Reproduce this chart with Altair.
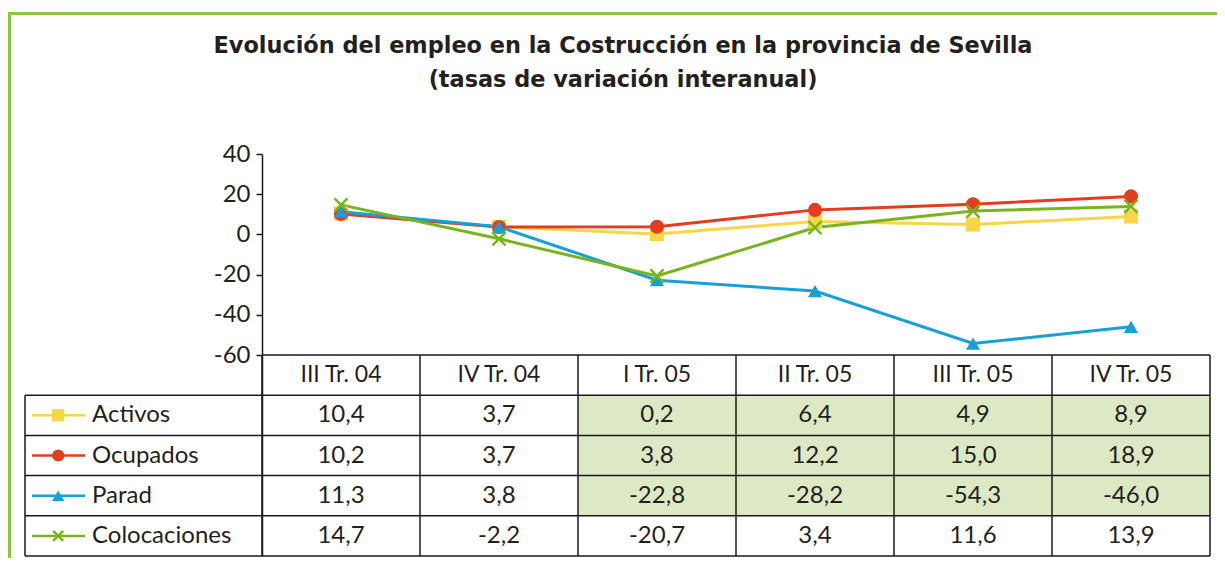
import altair as alt
import pandas as pd

quarters = ["III Tr. 04", "IV Tr. 04", "I Tr. 05", "II Tr. 05", "III Tr. 05", "IV Tr. 05"]
series = ["Activos", "Ocupados", "Parad", "Colocaciones"]
activos = [10.4, 3.7, 0.2, 6.4, 4.9, 8.9]
ocupados = [10.2, 3.7, 3.8, 12.2, 15.0, 18.9]
parad = [11.3, 3.8, -22.8, -28.2, -54.3, -46.0]
colocaciones = [14.7, -2.2, -20.7, 3.4, 11.6, 13.9]
highlight_quarters = ["I Tr. 05", "II Tr. 05", "III Tr. 05", "IV Tr. 05"]
highlight_series = ["Activos", "Ocupados", "Parad"]
y_ticks = [-60, -40, -20, 0, 20, 40]
title_lines = ["Evolución del empleo en la Costrucción en la provincia de Sevilla",
               "(tasas de variación interanual)"]

colors = ["#f9d548", "#e23d1f", "#179fd8", "#79b41d"]
shapes = ["square", "circle", "triangle-up", "M-1,-1L1,1M1,-1L-1,1"]
TXT = "#231f20"
FONT = "Lato"
FS = 24

# ---- table geometry (in scale units) ----
Y_TOP = -60          # top of the table (bottom of the y axis)
ROW_H = 20           # row height in y units
LEG_X0 = -1.5        # left edge of legend column (x units)

values = [activos, ocupados, parad, colocaciones]
rows = []
for r, (s, vals) in enumerate(zip(series, values)):
    for i, (q, v) in enumerate(zip(quarters, vals)):
        rows.append({
            "series": s, "quarter": q, "value": v,
            "xc": i + 0.5, "x0": i, "x1": i + 1,
            "yc": Y_TOP - ROW_H * (r + 1.5),
            "yt": Y_TOP - ROW_H * (r + 1), "yb": Y_TOP - ROW_H * (r + 2),
            "label": f"{v:.1f}".replace(".", ","),
            "hl": (q in highlight_quarters) and (s in highlight_series),
        })
df = pd.DataFrame(rows)

hdr = pd.DataFrame({"quarter": quarters, "xc": [i + 0.5 for i in range(len(quarters))],
                    "yc": [Y_TOP - ROW_H / 2] * len(quarters)})

leg = pd.DataFrame({"series": series,
                    "yc": [Y_TOP - ROW_H * (r + 1.5) for r in range(len(series))],
                    "la": [-1.456] * 4, "lb": [-1.12] * 4, "sx": [-1.29] * 4, "tx": [-1.076] * 4})

n_rows = len(series)
y_bottom = Y_TOP - ROW_H * (n_rows + 1)
hrules = pd.DataFrame(
    [{"a": 0, "b": len(quarters), "y": Y_TOP}] +
    [{"a": LEG_X0, "b": len(quarters), "y": Y_TOP - ROW_H * (k + 1)} for k in range(n_rows + 1)])
vrules = pd.DataFrame(
    [{"x": LEG_X0, "ya": Y_TOP - ROW_H, "yb": y_bottom}] +
    [{"x": i, "ya": Y_TOP, "yb": y_bottom} for i in range(len(quarters) + 1)])

xs = alt.Scale(domain=[0, len(quarters)], nice=False, zero=False)
ys = alt.Scale(domain=[y_bottom, 40], nice=False, zero=False)
cs = alt.Scale(domain=series, range=colors)

X = lambda f: alt.X(f, type="quantitative", scale=xs, axis=None)
Y = lambda f: alt.Y(f, type="quantitative", scale=ys, axis=None)

yaxis = alt.Axis(values=y_ticks, title=None, grid=False, domainColor="#1a1a1a",
                 domainWidth=1.5, tickColor="#1a1a1a", tickWidth=1.5, tickSize=6,
                 labelFont=FONT, labelFontSize=FS, labelColor=TXT, labelPadding=6,
                 labelExpr="datum.value < 0 ? '-' + abs(datum.value) : '' + datum.value")

shade = alt.Chart(df[df["hl"]]).mark_rect(color="#dde8c4").encode(
    x=X("x0"), x2="x1", y=alt.Y("yt:Q", scale=ys, axis=yaxis), y2="yb")

hr = alt.Chart(hrules).mark_rule(color="#1a1a1a", strokeWidth=1.5).encode(
    x=X("a"), x2="b", y=Y("y"))
vr = alt.Chart(vrules).mark_rule(color="#1a1a1a", strokeWidth=1.5).encode(
    x=X("x"), y=Y("ya"), y2="yb")

lines = alt.Chart(df).mark_line(strokeWidth=3).encode(
    x=X("xc"), y=Y("value"),
    color=alt.Color("series:N", scale=cs, legend=None),
    detail="series:N")

pts_filled = alt.Chart(df[df["series"] != "Colocaciones"]).mark_point(
    filled=True, opacity=1, size=200).encode(
    x=X("xc"), y=Y("value"),
    color=alt.Color("series:N", scale=cs, legend=None),
    shape=alt.Shape("series:N", scale=alt.Scale(domain=series, range=shapes), legend=None))

pts_x = alt.Chart(df[df["series"] == "Colocaciones"]).mark_point(
    shape=shapes[3], filled=False, size=170, strokeWidth=2.5, opacity=1).encode(
    x=X("xc"), y=Y("value"),
    color=alt.Color("series:N", scale=cs, legend=None))

head = alt.Chart(hdr).mark_text(font=FONT, fontSize=23, color=TXT).encode(
    x=X("xc"), y=Y("yc"), text="quarter:N")
vals = alt.Chart(df).mark_text(font=FONT, fontSize=FS, color=TXT).encode(
    x=X("xc"), y=Y("yc"), text="label:N")

leg_line = alt.Chart(leg).mark_rule(strokeWidth=2.5).encode(
    x=X("la"), x2="lb", y=Y("yc"), color=alt.Color("series:N", scale=cs, legend=None))
leg_pts = alt.Chart(leg[leg["series"] != "Colocaciones"]).mark_point(
    filled=True, opacity=1, size=150).encode(
    x=X("sx"), y=Y("yc"),
    color=alt.Color("series:N", scale=cs, legend=None),
    shape=alt.Shape("series:N", scale=alt.Scale(domain=series, range=shapes), legend=None))
leg_x = alt.Chart(leg[leg["series"] == "Colocaciones"]).mark_point(
    shape=shapes[3], filled=False, size=100, strokeWidth=2.5, opacity=1).encode(
    x=X("sx"), y=Y("yc"), color=alt.Color("series:N", scale=cs, legend=None))
leg_txt = alt.Chart(leg).mark_text(font=FONT, fontSize=FS, color=TXT, align="left").encode(
    x=X("tx"), y=Y("yc"), text="series:N")

one = pd.DataFrame({"k": [0]})
frame_top = alt.Chart(one).mark_rule(color="#8cc63f", strokeWidth=3).encode(
    x=alt.value(-262), x2=alt.value(1000), y=alt.value(-140.5))
frame_left = alt.Chart(one).mark_rule(color="#8cc63f", strokeWidth=3).encode(
    x=alt.value(-252.5), y=alt.value(-142), y2=alt.value(420))

TFONT = "DejaVu Sans"
t1 = alt.Chart(pd.DataFrame({"t": [title_lines[0]]})).mark_text(
    font=TFONT, fontSize=22.4, fontWeight="bold", color=TXT, baseline="alphabetic").encode(
    x=alt.value(361), y=alt.value(-101), text="t:N")
t2 = alt.Chart(pd.DataFrame({"t": [title_lines[1]]})).mark_text(
    font=TFONT, fontSize=22.4, fontWeight="bold", color=TXT, baseline="alphabetic").encode(
    x=alt.value(361), y=alt.value(-67), text="t:N")

chart = alt.layer(
    shade, hr, vr, lines, pts_filled, pts_x, head, vals,
    leg_line, leg_pts, leg_x, leg_txt, frame_top, frame_left, t1, t2
).resolve_axis(y="independent").properties(
    width=948, height=402,
    autosize=alt.AutoSizeParams(type="none"),
    padding={"left": 254, "top": 146, "right": 7, "bottom": 2},
).configure_view(stroke=None)

chart.save("out.html", embed_options={"renderer": "svg", "actions": False})
